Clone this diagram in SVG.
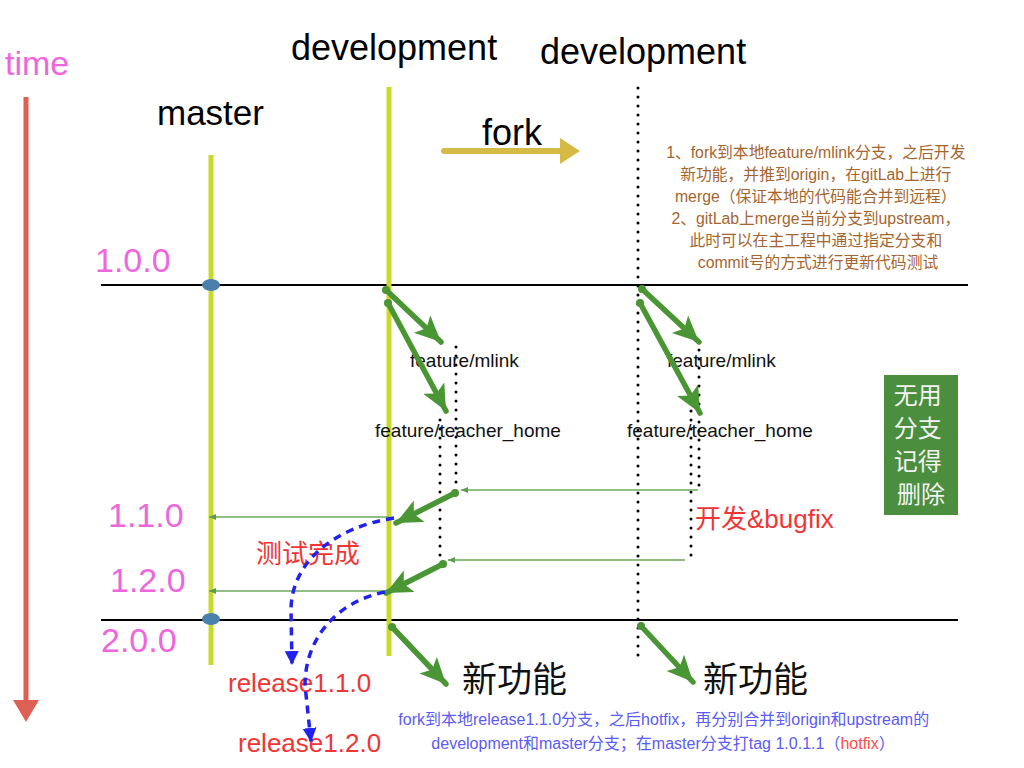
<svg xmlns="http://www.w3.org/2000/svg" width="1024" height="768" viewBox="0 0 1024 768">
<style>
text{font-family:"Liberation Sans","Noto Sans CJK SC",sans-serif}
.big{font-size:36px;fill:#000}
.ver{font-size:34px;fill:#ee66dd}
.feat{font-size:19px;fill:#111}
.red{fill:#f03535}
.note{font-size:15.8px;fill:#a5652f}
.blue{font-size:16px;fill:#5b5bf5}
.g{stroke:#4a9634;stroke-width:5.5;stroke-linecap:round;fill:none;marker-end:url(#gh)}
.thin{stroke:#6aaa5a;stroke-width:1.5;fill:none;marker-end:url(#th)}
.dot{stroke:#000;stroke-width:3;stroke-linecap:round;stroke-dasharray:0 9;fill:none}
.bd{stroke:#2222ee;stroke-width:3.5;stroke-dasharray:8 6;fill:none;marker-end:url(#bh)}
.branch{stroke:#c9d92b;stroke-width:5}
.hl{stroke:#000;stroke-width:2}
.dotc{fill:#4a80ad}
</style>
<defs>
<marker id="gh" markerUnits="userSpaceOnUse" markerWidth="30" markerHeight="28" refX="26" refY="12" orient="auto">
<path d="M0,0 L26,12 L0,24 L6,12 z" fill="#4a9634"/>
</marker>
<marker id="th" markerUnits="userSpaceOnUse" markerWidth="8" markerHeight="8" refX="7" refY="3" orient="auto">
<path d="M0,0 L7,3 L0,6 z" fill="#5a9e48"/>
</marker>
<marker id="bh" markerUnits="userSpaceOnUse" markerWidth="16" markerHeight="16" refX="14" refY="7" orient="auto">
<path d="M0,0 L14,7 L0,14 z" fill="#2222ee"/>
</marker>
</defs>

<g id="time-axis">
<text x="5" y="75" style="font-size:34px;fill:#ee66dd">time</text>
<line x1="26" y1="97" x2="26" y2="704" stroke="#dd6055" stroke-width="5"/>
<path d="M13,700 L39,700 L26,722 z" fill="#dd6055"/>
</g>

<g id="timeline-lines">
<line class="hl" x1="101" y1="285" x2="968" y2="285"/>
<line class="hl" x1="101" y1="620" x2="958" y2="620"/>
</g>

<g id="versions">
<text class="ver" x="95" y="272">1.0.0</text>
<text class="ver" x="108" y="527">1.1.0</text>
<text class="ver" x="110" y="592">1.2.0</text>
<text class="ver" x="101" y="652">2.0.0</text>
</g>

<g id="master">
<text class="big" x="157" y="125" style="font-size:35px">master</text>
<line class="branch" x1="211" y1="155" x2="211" y2="665"/>
<ellipse class="dotc" cx="211" cy="285" rx="9" ry="6"/>
<ellipse class="dotc" cx="211" cy="619" rx="9" ry="6"/>
</g>

<g id="development-local">
<text class="big" x="291" y="60">development</text>
<line class="branch" x1="389" y1="87" x2="389" y2="656"/>
</g>

<g id="development-upstream">
<text class="big" x="540" y="64">development</text>
<line class="dot" x1="638" y1="88" x2="638" y2="658"/>
</g>

<g id="fork">
<text class="big" x="482" y="145">fork</text>
<line x1="444" y1="151" x2="562" y2="151" stroke="#d5bb45" stroke-width="6" stroke-linecap="round"/>
<path d="M560,138 L580,151 L560,164 z" fill="#d5bb45"/>
</g>

<g id="note-top">
<text class="note" text-anchor="middle">
<tspan x="818" y="158">1、fork到本地feature/mlink分支，之后开发</tspan>
<tspan x="818" y="180">新功能，并推到origin，在gitLab上进行</tspan>
<tspan x="818" y="202">merge（保证本地的代码能合并到远程）</tspan>
<tspan x="818" y="224">2、gitLab上merge当前分支到upstream，</tspan>
<tspan x="818" y="246">此时可以在主工程中通过指定分支和</tspan>
<tspan x="818" y="268">commit号的方式进行更新代码测试</tspan>
</text>
</g>

<g id="feature-left">
<line class="dot" x1="456" y1="347" x2="456" y2="492"/>
<line class="dot" x1="440" y1="420" x2="440" y2="557"/>
<text class="feat" x="410" y="367">feature/mlink</text>
<text class="feat" x="375" y="437">feature/teacher_home</text>
</g>

<g id="feature-right">
<line class="dot" x1="699" y1="341" x2="699" y2="487"/>
<line class="dot" x1="691" y1="411" x2="691" y2="558"/>
<text class="feat" x="667" y="367">feature/mlink</text>
<text class="feat" x="627" y="437">feature/teacher_home</text>
</g>

<g id="unused-box">
<rect x="884" y="375" width="74" height="140" fill="#4b8f3e"/>
<text text-anchor="middle" style="font-size:24px;fill:#f2f2f2">
<tspan x="921" y="404">无用</tspan>
<tspan x="921" y="437">分支</tspan>
<tspan x="921" y="470">记得</tspan>
<tspan x="921" y="503">删除</tspan>
</text>
</g>

<g id="labels">
<text class="red" x="695" y="528" style="font-size:26px">开发&amp;bugfix</text>
<text class="red" x="256" y="563" style="font-size:26px">测试完成</text>
<text class="red" x="228" y="692" style="font-size:26px">release1.1.0</text>
<text class="red" x="238" y="752" style="font-size:26px">release1.2.0</text>
<text x="462" y="692" style="font-size:35px;fill:#111">新功能</text>
<text x="703" y="692" style="font-size:35px;fill:#111">新功能</text>
</g>

<g id="note-bottom">
<text class="blue" text-anchor="middle">
<tspan x="666" y="725">fork到本地release1.1.0分支，之后hotfix，再分别合并到origin和upstream的</tspan>
<tspan x="663" y="749">development和master分支；在master分支打tag 1.0.1.1（<tspan fill="#ff4b4b">hotfix</tspan>）</tspan>
</text>
</g>

<g id="connectors">
<circle cx="386" cy="290" r="4" fill="#4a9634"/>
<path class="g" d="M386,290 L441,342"/>
<circle cx="388" cy="303" r="4" fill="#4a9634"/>
<path class="g" d="M388,303 L446,411"/>
<circle cx="455" cy="493" r="4" fill="#4a9634"/>
<path class="g" d="M455,493 L396,523"/>
<circle cx="443" cy="564" r="4" fill="#4a9634"/>
<path class="g" d="M443,564 L386,593"/>
<circle cx="642" cy="289" r="4" fill="#4a9634"/>
<path class="g" d="M642,289 L699,342"/>
<circle cx="640" cy="303" r="4" fill="#4a9634"/>
<path class="g" d="M640,303 L700,413"/>
<circle cx="392" cy="627" r="4" fill="#4a9634"/>
<path class="g" d="M392,627 L446,684"/>
<circle cx="641" cy="626" r="4" fill="#4a9634"/>
<path class="g" d="M641,626 L693,682"/>

<path class="thin" d="M698,490 L461,490"/>
<path class="thin" d="M685,560 L448,560"/>
<path class="thin" d="M389,517 L209,517"/>
<path class="thin" d="M385,591 L209,591"/>

<path class="bd" d="M394,518 C330,528 291,565 291,610 L292,665"/>
<path class="bd" d="M385,592 C335,602 305,640 305,685 L311,742"/>
</g>
</svg>
